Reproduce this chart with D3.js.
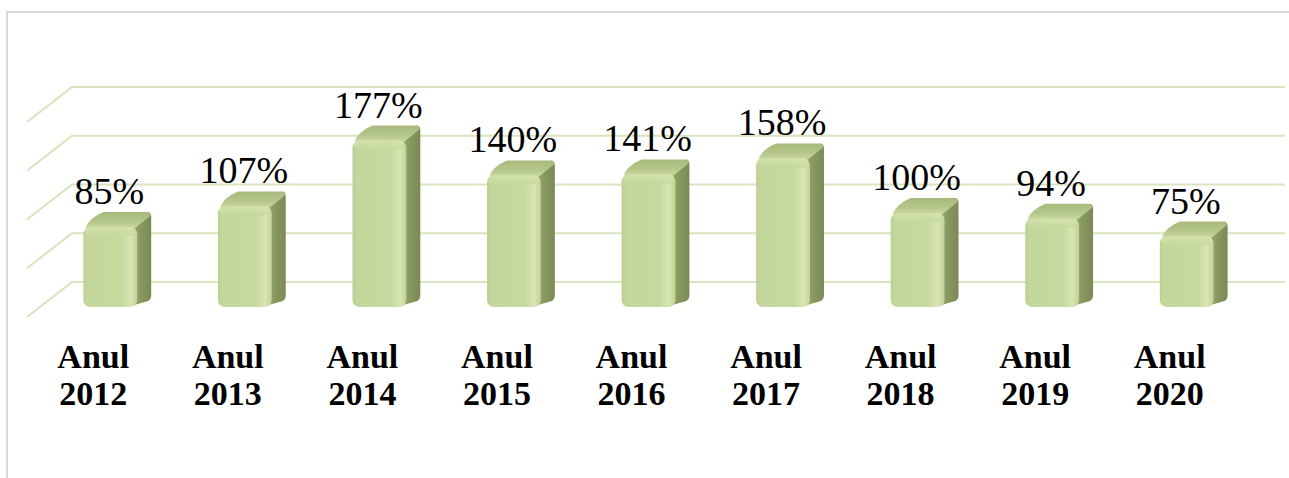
<!DOCTYPE html>
<html lang="ro">
<head>
  <meta charset="UTF-8">
  <title>Anul 2012 - 2020</title>
  <script src="https://d3js.org/d3.v7.min.js"></script>
  <style>
    html, body { margin: 0; padding: 0; background: #fff; overflow: hidden; }
  </style>
</head>
<body>
  <div id="chart"></div>

  <script>
    // Data
    const years = ["2012", "2013", "2014", "2015", "2016", "2017", "2018", "2019", "2020"];
    const values = [85, 107, 177, 140, 141, 158, 100, 94, 75];
    const gridValues = [0, 50, 100, 150, 200];

    const width = 1289, height = 478;

    const svg = d3.select("#chart").append("svg")
      .attr("width", width)
      .attr("height", height);

    // gradients for the bar faces
    const defs = svg.append("defs");
    function grad(id, stops, x2, y2) {
      const g = defs.append("linearGradient").attr("id", id)
        .attr("x1", 0).attr("y1", 0).attr("x2", x2).attr("y2", y2);
      stops.forEach(s => g.append("stop").attr("offset", s[0]).attr("stop-color", s[1]));
    }
    grad("front", [[0, "#bcd093"], [0.08, "#c3d69b"], [0.7, "#c6d99f"], [0.88, "#d8e5b4"], [1, "#bfd296"]], 1, 0);
    grad("frontTop", [[0, "#d6e4b0"], [1, "#c4d79c"]], 0, 1);
    grad("side", [[0, "#95a76a"], [0.4, "#869860"], [1, "#7a8a55"]], 1, 0);
    grad("top", [[0, "#a7ba7b"], [0.6, "#b4c689"], [1, "#c9dba2"]], 0, 1);

    // chart frame
    svg.append("rect")
      .attr("x", 7).attr("y", 12)
      .attr("width", width + 20).attr("height", height + 20)
      .attr("fill", "none")
      .attr("stroke", "#d9d9d9")
      .attr("stroke-width", 2);

    // scales
    const x = d3.scaleBand()
      .domain(years)
      .range([43, 1254])
      .paddingInner(0.6)
      .paddingOuter(0.3);

    const yWall = d3.scaleLinear().domain([0, 200]).range([282, 87]);
    const yBar = d3.scaleLinear().domain([0, 200]).range([307, 119]);

    const wallLeft = 72, wallRight = 1285;
    const depthX = -45, depthY = 35;

    // back wall + side wall gridlines
    const grid = svg.append("g")
      .attr("stroke", "#d7e4bd")
      .attr("stroke-width", 2)
      .attr("fill", "none");
    grid.selectAll("path")
      .data(gridValues)
      .join("path")
      .attr("d", d => `M${wallLeft + depthX},${yWall(d) + depthY}L${wallLeft},${yWall(d)}L${wallRight},${yWall(d)}`);

    // bars
    const dx = 14, dyTop = -15, dyBottom = -8;
    const bw = x.bandwidth();
    const bars = svg.append("g").selectAll("g")
      .data(years.map((y, i) => ({year: y, value: values[i]})))
      .join("g");

    // side face
    bars.append("path")
      .attr("d", d => {
        const x1 = x(d.year) + bw, yt = yBar(d.value), yb = yBar(0);
        return `M${x1 - 3},${yt}L${x1 + dx - 4},${yt + dyTop}Q${x1 + dx},${yt + dyTop} ${x1 + dx},${yt + dyTop + 5}` +
               `L${x1 + dx},${yb + dyBottom - 3}Q${x1 + dx},${yb + dyBottom} ${x1 + dx - 3},${yb + dyBottom + 2}L${x1 - 3},${yb - 2}Z`;
      })
      .attr("fill", "url(#side)");

    // top face
    bars.append("path")
      .attr("d", d => {
        const x0 = x(d.year), x1 = x0 + bw, yt = yBar(d.value);
        return `M${x0 + 2},${yt + 1}Q${x0 + dx * 0.4},${yt + dyTop * 0.6} ${x0 + dx + 6},${yt + dyTop}` +
               `L${x1 + dx - 5},${yt + dyTop}Q${x1 + dx},${yt + dyTop} ${x1 + dx - 1},${yt + dyTop + 4}` +
               `L${x1 - 2},${yt + 1}Z`;
      })
      .attr("fill", "url(#top)");

    // front face
    bars.append("rect")
      .attr("x", d => x(d.year))
      .attr("y", d => yBar(d.value))
      .attr("width", bw)
      .attr("height", d => yBar(0) - yBar(d.value))
      .attr("rx", 7)
      .attr("fill", "url(#front)");

    // bevel highlight on the top of the front face
    bars.append("rect")
      .attr("x", d => x(d.year) + 1)
      .attr("y", d => yBar(d.value))
      .attr("width", bw - 2)
      .attr("height", 9)
      .attr("rx", 6)
      .attr("fill", "url(#frontTop)")
      .attr("opacity", 0.8);

    // value labels
    svg.append("g").selectAll("text")
      .data(years.map((y, i) => ({year: y, value: values[i]})))
      .join("text")
      .attr("x", d => x(d.year) + bw / 2 - 1)
      .attr("y", d => yBar(d.value) - 23)
      .attr("text-anchor", "middle")
      .attr("font-family", "'Liberation Serif', 'DejaVu Serif', serif")
      .attr("font-size", 38)
      .attr("fill", "#000")
      .text(d => d.value + "%");

    // category labels
    const cat = svg.append("g").selectAll("text")
      .data(years)
      .join("text")
      .attr("text-anchor", "middle")
      .attr("font-family", "'Liberation Serif', 'DejaVu Serif', serif")
      .attr("font-weight", "bold")
      .attr("font-size", 34)
      .attr("fill", "#000");
    cat.append("tspan")
      .attr("x", d => x(d) + bw / 2 - 17)
      .attr("y", 368)
      .text("Anul");
    cat.append("tspan")
      .attr("x", d => x(d) + bw / 2 - 17)
      .attr("y", 405)
      .text(d => d);
  </script>
</body>
</html>
